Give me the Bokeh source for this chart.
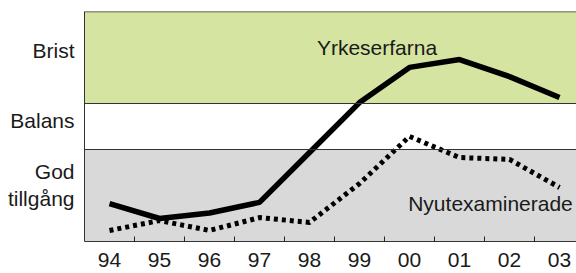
from bokeh.plotting import figure
from bokeh.models import FixedTicker, BoxAnnotation, Span, Range1d
from bokeh.core.properties import value
from bokeh.embed import file_html
from bokeh.resources import INLINE

# ---- data ----
years = ["94", "95", "96", "97", "98", "99", "00", "01", "02", "03"]
yrkeserfarna = [1.65, 1.00, 1.24, 1.70, 3.87, 6.04, 7.57, 7.91, 7.17, 6.26]
nyutexaminerade = [0.48, 0.91, 0.48, 1.04, 0.83, 2.52, 4.57, 3.65, 3.57, 2.35]
levels = ["Brist", "Balans", "God", "tillgång"]
level_pos = [8.32, 5.25, 3.06, 1.89]
band_bottoms = [6, 4, 0]
band_tops = [10, 6, 4]
band_colors = ["#d6e4a1", "#ffffff", "#d9d9d9"]
series_names = ["Yrkeserfarna", "Nyutexaminerade"]

FONT = "Liberation Sans"
TXT = "#1a1a1a"

xs = list(range(len(years)))

p = figure(width=576, height=273, output_backend="svg", toolbar_location=None,
           x_range=Range1d(-0.5, 9.34), y_range=Range1d(0, 10),
           min_border_left=84, min_border_right=0, min_border_top=11, min_border_bottom=32)
p.outline_line_color = None
p.grid.visible = False
p.background_fill_color = "white"

for b, t, c in zip(band_bottoms, band_tops, band_colors):
    p.add_layout(BoxAnnotation(bottom=b, top=t, fill_color=c, fill_alpha=1, line_color=None, level="underlay"))
for loc in [band_bottoms[0], band_bottoms[1]]:
    p.add_layout(Span(location=loc, dimension="width", line_color="#333333", line_width=1))
p.add_layout(Span(location=band_tops[0], dimension="width", line_color="#333333", line_width=1.5))

p.line(xs, yrkeserfarna, line_color="black", line_width=5.5)
p.line(xs, nyutexaminerade, line_color="black", line_width=5, line_dash="4 4")

p.text(x=[5.35], y=[8.43], text=[series_names[0]], text_font=value(FONT), text_font_size="21px",
       text_align="center", text_baseline="middle", text_color=TXT)
p.text(x=[7.62], y=[1.65], text=[series_names[1]], text_font=value(FONT), text_font_size="21px",
       text_align="center", text_baseline="middle", text_color=TXT)

xa = p.xaxis[0]
xa.ticker = FixedTicker(ticks=xs, minor_ticks=[i + 0.5 for i in range(len(years) - 1)])
xa.major_label_overrides = {i: y for i, y in zip(xs, years)}
xa.major_tick_line_color = None
xa.minor_tick_in = 5
xa.minor_tick_out = 0
xa.minor_tick_line_color = "#222222"
xa.axis_line_color = "#333333"
xa.major_label_text_font = FONT
xa.major_label_text_font_size = "21px"
xa.major_label_text_color = TXT
xa.major_label_standoff = 5

ya = p.yaxis[0]
ya.ticker = FixedTicker(ticks=level_pos, minor_ticks=[])
ya.major_label_overrides = {v: l for v, l in zip(level_pos, levels)}
ya.major_tick_line_color = None
ya.minor_tick_line_color = None
ya.axis_line_color = "#333333"
ya.major_label_text_font = FONT
ya.major_label_text_font_size = "21px"
ya.major_label_text_color = TXT
ya.major_label_standoff = 4

open("out.html", "w").write(file_html(p, INLINE))
